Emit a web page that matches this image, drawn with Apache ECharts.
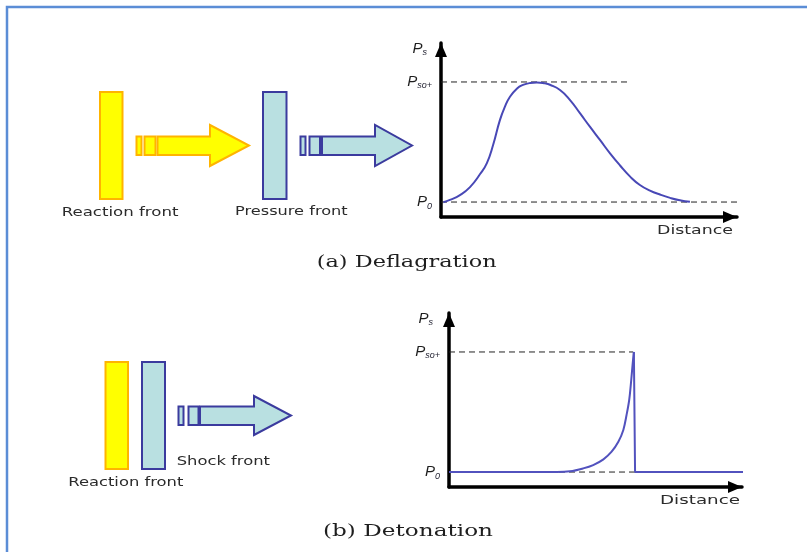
<!DOCTYPE html>
<html><head><meta charset="utf-8">
<script src="https://cdn.jsdelivr.net/npm/echarts@6/dist/echarts.min.js"></script>
<style>html,body{margin:0;padding:0;background:#fff}#c{width:807px;height:552px}</style>
</head><body><div id="c"></div>
<script>
// ---- data (arbitrary units: distance 0..100, pressure 0..100) ----
const P0 = 8.6;
const PSO = 77.6;
const deflagX = [0.8, 3.0, 6.4, 9.8, 13.2, 15.5, 17.6, 19.9, 21.6, 23.3, 25.7, 27.7, 30.1, 32.4, 35.1, 36.8, 40.2, 43.6, 47.0, 50.3, 53.7, 57.1, 60.5, 63.9, 67.2, 70.6, 74.0, 77.4, 80.7, 84.1];
const deflagY = [8.5, 9.8, 12.6, 17.2, 24.7, 31.0, 41.4, 55.7, 63.4, 69.1, 73.9, 75.9, 77.0, 77.3, 76.8, 76.0, 73.0, 67.2, 59.5, 51.9, 44.3, 36.6, 29.6, 23.2, 18.4, 15.2, 12.9, 11.0, 9.6, 8.7];
const detonX = [0, 36.8, 41.3, 45.8, 49.2, 52.7, 55.5, 57.8, 59.5, 60.6, 61.5, 62.2, 62.7, 63.1, 63.5, 101];
const detonY = [8.6, 8.6, 9.0, 10.7, 12.6, 15.9, 20.3, 26.0, 32.8, 41.4, 50.0, 61.5, 71.1, 77.6, 8.6, 8.6];
const detonPeakIndex = 13;
const psoEndDeflag = 63.2;
const p0EndDeflag = 101;
const psoEndDeton = 62.8;
const p0EndDeton = 63.5;
const yTickValues = [P0, PSO];
const yTickLabels = ['{p|P}{sub|0}', '{p|P}{sub|so+}'];
const yAxisName = '{p|P}{sub|s}';
const xAxisName = 'Distance';
const captions = ['(a) Deflagration', '(b) Detonation'];
const frontLabels = ['Reaction front', 'Pressure front', 'Shock front', 'Reaction front'];

const zip = (xs, ys) => xs.map((x, i) => [x, ys[i]]);

const ctx = document.createElement('canvas').getContext('2d');
function fitText(text, left, cy, width, size, family, color, weight) {
  const font = (weight || 'normal') + ' ' + size + 'px ' + family;
  ctx.font = font;
  const w = ctx.measureText(text).width;
  return {
    type: 'text', x: left, y: cy, scaleX: width / w, scaleY: 1, silent: true,
    style: { text: text, x: 0, y: 0, fill: color, font: font, align: 'left', verticalAlign: 'middle' }
  };
}

const CURVE = '#4848b6';
const YEL = '#ffff00', YEL_S = '#ffb400';
const CY = '#b9e0e1', CY_S = '#3b3b9e';
const TXT = '#2b2b2b';

function arrow(x0, x1, tip, yT, yB, hT, hB, fill, stroke) {
  const ym = (hT + hB) / 2;
  return { type: 'polygon', silent: true,
    shape: { points: [[x0, yT], [x1, yT], [x1, hT], [tip, ym], [x1, hB], [x1, yB], [x0, yB]] },
    style: { fill: fill, stroke: stroke, lineWidth: 2 } };
}
function rect(x, y, w, h, fill, stroke) {
  return { type: 'rect', silent: true, shape: { x: x, y: y, width: w, height: h },
    style: { fill: fill, stroke: stroke, lineWidth: 2 } };
}

const richLab = {
  p: { fontFamily: 'Liberation Sans', fontStyle: 'italic', fontSize: 15, color: '#1e1e1e' },
  sub: { fontFamily: 'Liberation Sans', fontStyle: 'italic', fontSize: 9, color: '#1e1e2e', padding: [8, 0, 0, 0] }
};

function axesFor(idx, namePad) {
  const line = { show: true, symbol: ['none', 'triangle'], symbolSize: [12, 14], symbolOffset: [0, -7],
    lineStyle: { color: '#000', width: 3.5 } };
  return {
    x: {
      type: 'value', gridIndex: idx, min: 0, max: 100,
      axisLine: line,
      axisTick: { show: false }, axisLabel: { show: false }, splitLine: { show: false }
    },
    y: {
      type: 'value', gridIndex: idx, min: 0, max: 100,
      name: yAxisName, nameLocation: 'end', nameGap: 3,
      nameTextStyle: { align: 'right', verticalAlign: 'top', padding: [0, namePad, 0, 0], rich: richLab },
      axisLine: line,
      axisTick: { show: false }, splitLine: { show: false },
      axisLabel: { show: true, customValues: yTickValues, margin: 9, rich: richLab,
        formatter: v => yTickLabels[yTickValues.indexOf(v)] }
    }
  };
}
const a0 = axesFor(0, 14), a1 = axesFor(1, 16);

function dashed(idx, pts) {
  return { type: 'line', xAxisIndex: idx, yAxisIndex: idx, data: pts, symbol: 'none', silent: true, clip: false, z: 2,
    lineStyle: { color: '#222', width: 1, type: [6, 4] } };
}
const detonPts = zip(detonX, detonY);

const option = {
  backgroundColor: '#fff',
  animation: false,
  grid: [
    { left: 441, top: 43, width: 296, height: 174 },
    { left: 449, top: 313, width: 293, height: 174 }
  ],
  xAxis: [a0.x, a1.x],
  yAxis: [a0.y, a1.y],
  series: [
    dashed(0, [[0, PSO], [psoEndDeflag, PSO]]),
    dashed(0, [[0, P0], [p0EndDeflag, P0]]),
    { type: 'line', xAxisIndex: 0, yAxisIndex: 0, data: zip(deflagX, deflagY), smooth: 0.5, symbol: 'none', clip: false, z: 3,
      lineStyle: { color: CURVE, width: 2 } },
    dashed(1, [[0, PSO], [psoEndDeton, PSO]]),
    dashed(1, [[0, P0], [p0EndDeton, P0]]),
    { type: 'line', xAxisIndex: 1, yAxisIndex: 1, data: detonPts.slice(0, detonPeakIndex + 1), smooth: 0.35, symbol: 'none', clip: false, z: 3,
      lineStyle: { color: '#5252be', width: 2 } },
    { type: 'line', xAxisIndex: 1, yAxisIndex: 1, data: detonPts.slice(detonPeakIndex), smooth: false, symbol: 'none', clip: false, z: 3,
      lineStyle: { color: '#5252be', width: 2 } }
  ],
  graphic: [
    { type: 'polyline', silent: true, shape: { points: [[7, 552], [7, 7], [807, 7]] },
      style: { stroke: '#5b8dd6', lineWidth: 2.5, fill: null } },
    // (a) schematic
    rect(100, 92, 22.5, 107, YEL, YEL_S),
    rect(136.5, 136.5, 5, 18.5, YEL, YEL_S),
    rect(144.5, 136.5, 11, 18.5, YEL, YEL_S),
    arrow(157.5, 210, 249, 136.5, 155, 125, 166, YEL, YEL_S),
    rect(263, 92, 23.5, 107, CY, CY_S),
    rect(300.5, 136.5, 5, 18.5, CY, CY_S),
    rect(309.5, 136.5, 10.5, 18.5, CY, CY_S),
    arrow(322, 375, 412, 136.5, 155, 125, 166, CY, CY_S),
    fitText(frontLabels[0], 61.7, 213, 116.7, 12, 'DejaVu Sans', TXT),
    fitText(frontLabels[1], 235, 212, 112.7, 12, 'DejaVu Sans', TXT),
    fitText(xAxisName, 657, 231, 76, 13, 'DejaVu Sans', TXT),
    fitText(captions[0], 316.7, 263, 180, 17, 'DejaVu Serif', '#1e1e1e'),
    // (b) schematic
    rect(105.5, 362, 22.5, 107, YEL, YEL_S),
    rect(142, 362, 23, 107, CY, CY_S),
    rect(178.5, 406.5, 5, 18.5, CY, CY_S),
    rect(188.5, 406.5, 10, 18.5, CY, CY_S),
    arrow(200, 254, 291, 406.5, 425, 396, 435, CY, CY_S),
    fitText(frontLabels[2], 176.7, 461.5, 93.3, 12, 'DejaVu Sans', TXT),
    fitText(frontLabels[3], 68.3, 483, 115, 12, 'DejaVu Sans', TXT),
    fitText(xAxisName, 660, 501, 80, 13, 'DejaVu Sans', TXT),
    fitText(captions[1], 323, 532, 170, 17, 'DejaVu Serif', '#1e1e1e')
  ]
};
const chart = echarts.init(document.getElementById('c'), null, { renderer: 'canvas' });
chart.setOption(option);
</script>
</body></html>
